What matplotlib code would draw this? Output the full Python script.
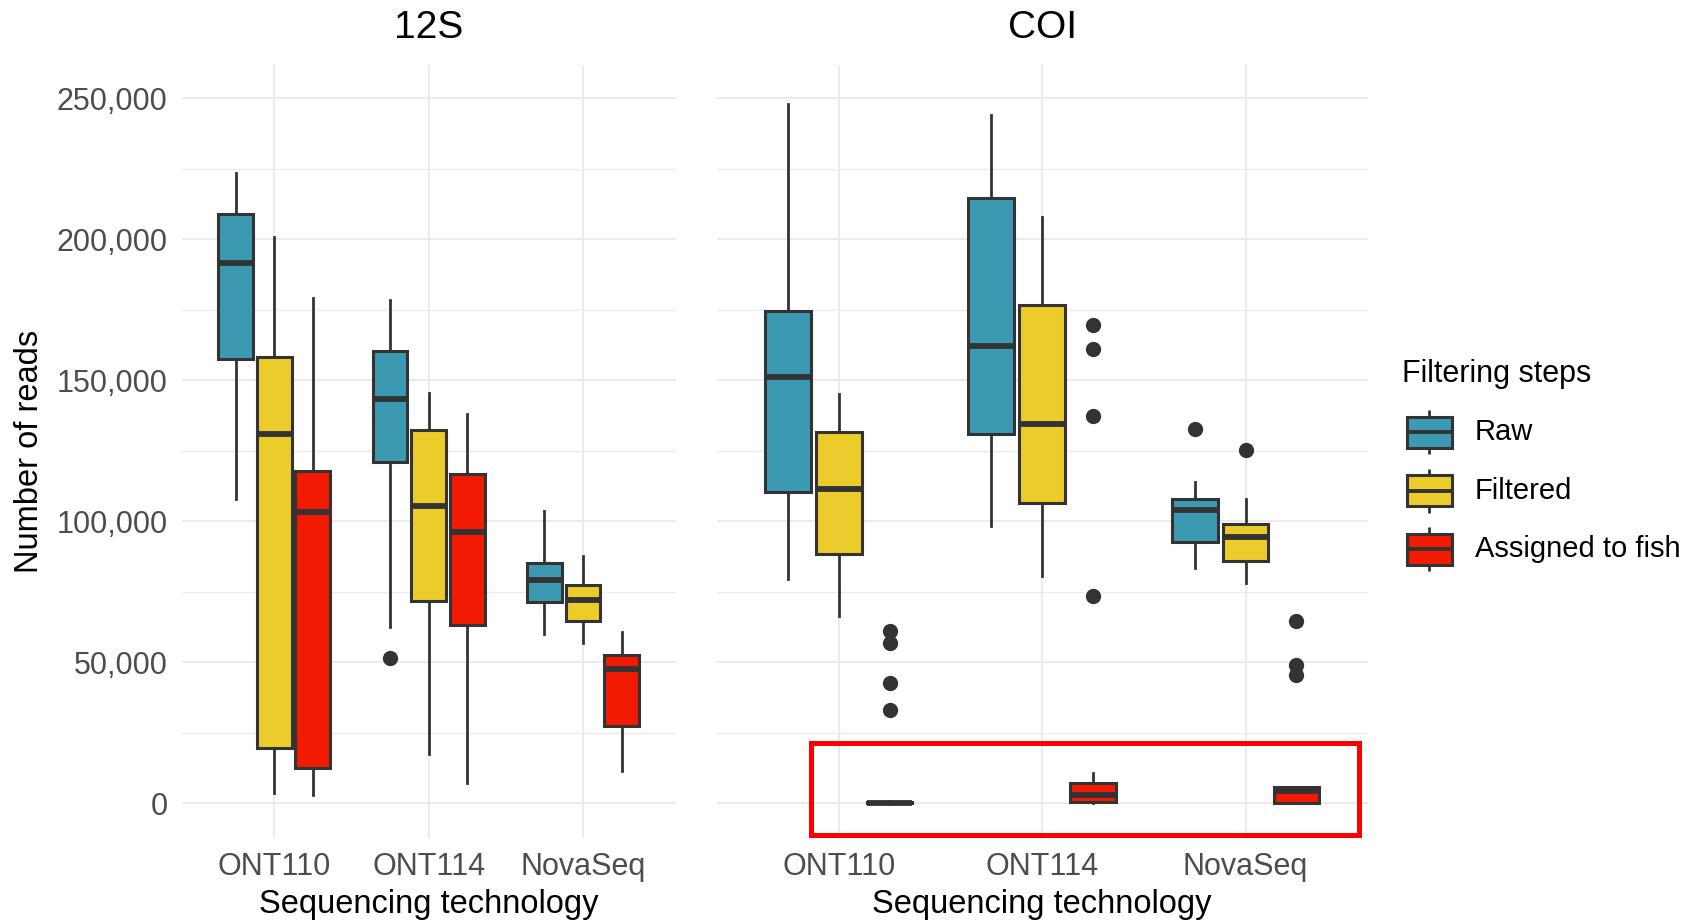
import matplotlib
matplotlib.use('Agg')
import matplotlib.pyplot as plt
import matplotlib.patches as patches
import matplotlib.ticker as ticker

plt.rcParams['font.family'] = ['Liberation Sans', 'DejaVu Sans']

###############################################################################
# Data : whislo, q1, median, q3, whishi

technologies = ['ONT110', 'ONT114', 'NovaSeq']
steps = ['Raw', 'Filtered', 'Assigned to fish']
step_colors = ['#3B9AB2', '#EBCC2A', '#F21A00']

# 12S
s12_raw = [[107900, 157600, 191600, 209000, 223600],
           [62600, 120900, 143400, 160300, 178600],
           [59900, 71300, 79200, 85300, 103700]]
s12_filt = [[3700, 19400, 130900, 158300, 200900],
            [17400, 71700, 105200, 132200, 145500],
            [56900, 64700, 72100, 77200, 87700]]
s12_fish = [[2800, 12300, 103100, 117700, 179000],
            [7000, 63200, 96300, 116700, 138100],
            [11400, 27300, 47700, 52600, 60700]]
s12_raw_out = [[], [51400], []]
s12_filt_out = [[], [], []]
s12_fish_out = [[], [], []]

# COI
coi_raw = [[79400, 110300, 151200, 174500, 247900],
           [98400, 131000, 162000, 214700, 244100],
           [83200, 92600, 103800, 108000, 113900]]
coi_filt = [[66400, 88300, 111400, 131500, 145200],
            [80400, 106600, 134500, 176800, 208000],
            [78000, 86000, 94200, 99100, 107800]]
coi_fish = [[0, 0, 100, 300, 600],
            [0, 300, 3000, 7000, 10800],
            [0, 0, 4300, 5600, 5600]]
coi_raw_out = [[], [], [132700]]
coi_filt_out = [[], [], [125100]]
coi_fish_out = [[61200, 56700, 42700, 33000],
                [169700, 161100, 137400, 73600],
                [64400, 49000, 45500]]

panels = {
    '12S': ([s12_raw, s12_filt, s12_fish], [s12_raw_out, s12_filt_out, s12_fish_out]),
    'COI': ([coi_raw, coi_filt, coi_fish], [coi_raw_out, coi_filt_out, coi_fish_out]),
}

###############################################################################
# Figure layout in pixels

W, H = 1695, 923
fig = plt.figure(figsize=(W/100, H/100), dpi=100)

def px_axes(x0, y0, x1, y1):
    return fig.add_axes([x0/W, 1-y1/H, (x1-x0)/W, (y1-y0)/H])

ax_12s = px_axes(181.6, 65, 675.6, 838)
ax_coi = px_axes(716.7, 65, 1367.6, 838)

edge = '#333333'
grid_col = '#EBEBEB'
tick_col = '#4D4D4D'
dodge = [-0.25, 0, 0.25]
box_w = 0.225

for ax, name in [(ax_12s, '12S'), (ax_coi, 'COI')]:
    stats_by_step, outs_by_step = panels[name]
    for k in range(3):
        stats = []
        for i in range(3):
            lo, q1, med, q3, hi = stats_by_step[k][i]
            stats.append(dict(whislo=lo, q1=q1, med=med, q3=q3, whishi=hi,
                              fliers=outs_by_step[k][i]))
        pos = [i + 1 + dodge[k] for i in range(3)]
        ax.bxp(stats, positions=pos, widths=box_w, patch_artist=True,
               showcaps=False, manage_ticks=False,
               boxprops=dict(facecolor=step_colors[k], edgecolor=edge, linewidth=2.2),
               medianprops=dict(color=edge, linewidth=4.2, solid_capstyle='butt'),
               whiskerprops=dict(color=edge, linewidth=2.0),
               flierprops=dict(marker='o', markerfacecolor=edge, markeredgecolor='none',
                               markersize=11),
               zorder=3)

    ax.set_xlim(0.4, 3.6)
    ax.set_ylim(-12400, 261800)
    ax.set_xticks([1, 2, 3])
    ax.set_xticklabels(technologies)
    ax.yaxis.set_major_locator(ticker.MultipleLocator(50000))
    ax.yaxis.set_minor_locator(ticker.MultipleLocator(25000))
    ax.yaxis.set_major_formatter(ticker.FuncFormatter(lambda v, p: f'{int(v):,}'))
    ax.grid(True, which='major', color=grid_col, linewidth=1.5, zorder=0)
    ax.grid(True, which='minor', axis='y', color=grid_col, linewidth=1.0, zorder=0)
    ax.set_axisbelow(True)
    ax.tick_params(which='both', length=0, labelsize=22, labelcolor=tick_col)
    ax.tick_params(axis='x', pad=10)
    ax.tick_params(axis='y', pad=10)
    for sp in ax.spines.values():
        sp.set_visible(False)

ax_coi.tick_params(axis='y', labelleft=False)

# Titles and axis labels
fig.text(428.6/W, 1-38.5/H, '12S', ha='center', va='baseline', fontsize=28)
fig.text(1042/W, 1-38.5/H, 'COI', ha='center', va='baseline', fontsize=28)
fig.text(428.6/W, 1-913/H, 'Sequencing technology', ha='center', va='baseline', fontsize=23.5)
fig.text(1042/W, 1-913/H, 'Sequencing technology', ha='center', va='baseline', fontsize=23.5)
fig.text(30/W, 1-451.5/H, 'Number of reads', ha='center', va='center', rotation=90, fontsize=23.5)

###############################################################################
# Legend drawn in a pixel-space axes

lax = px_axes(1390, 340, 1695, 590)
lax.set_xlim(1390, 1695)
lax.set_ylim(590, 340)
lax.axis('off')
lax.text(1402.5, 382, 'Filtering steps', ha='left', va='baseline', fontsize=22)
key_y = [432.5, 491, 549.5]
for k in range(3):
    yc = key_y[k]
    lax.plot([1428.8, 1428.8], [yc - 22, yc + 22], color=edge, lw=2.0, solid_capstyle='butt', zorder=1)
    lax.add_patch(patches.Rectangle((1407, yc - 15.5), 44.5, 31, facecolor=step_colors[k],
                                    edgecolor=edge, linewidth=2.2, zorder=2))
    lax.plot([1407, 1451.5], [yc, yc], color=edge, lw=2.8, solid_capstyle='butt', zorder=3)
    lax.text(1475, yc, steps[k], ha='left', va='center', fontsize=21)

###############################################################################
# Red highlight rectangle

fig.add_artist(patches.Rectangle((810.8/W, 1-834.5/H), (1359-810.8)/W, (834.5-742.7)/H,
                                 transform=fig.transFigure, fill=False,
                                 edgecolor='#FF0000', linewidth=3.6, zorder=10))

fig.savefig('out.png', dpi=100)
